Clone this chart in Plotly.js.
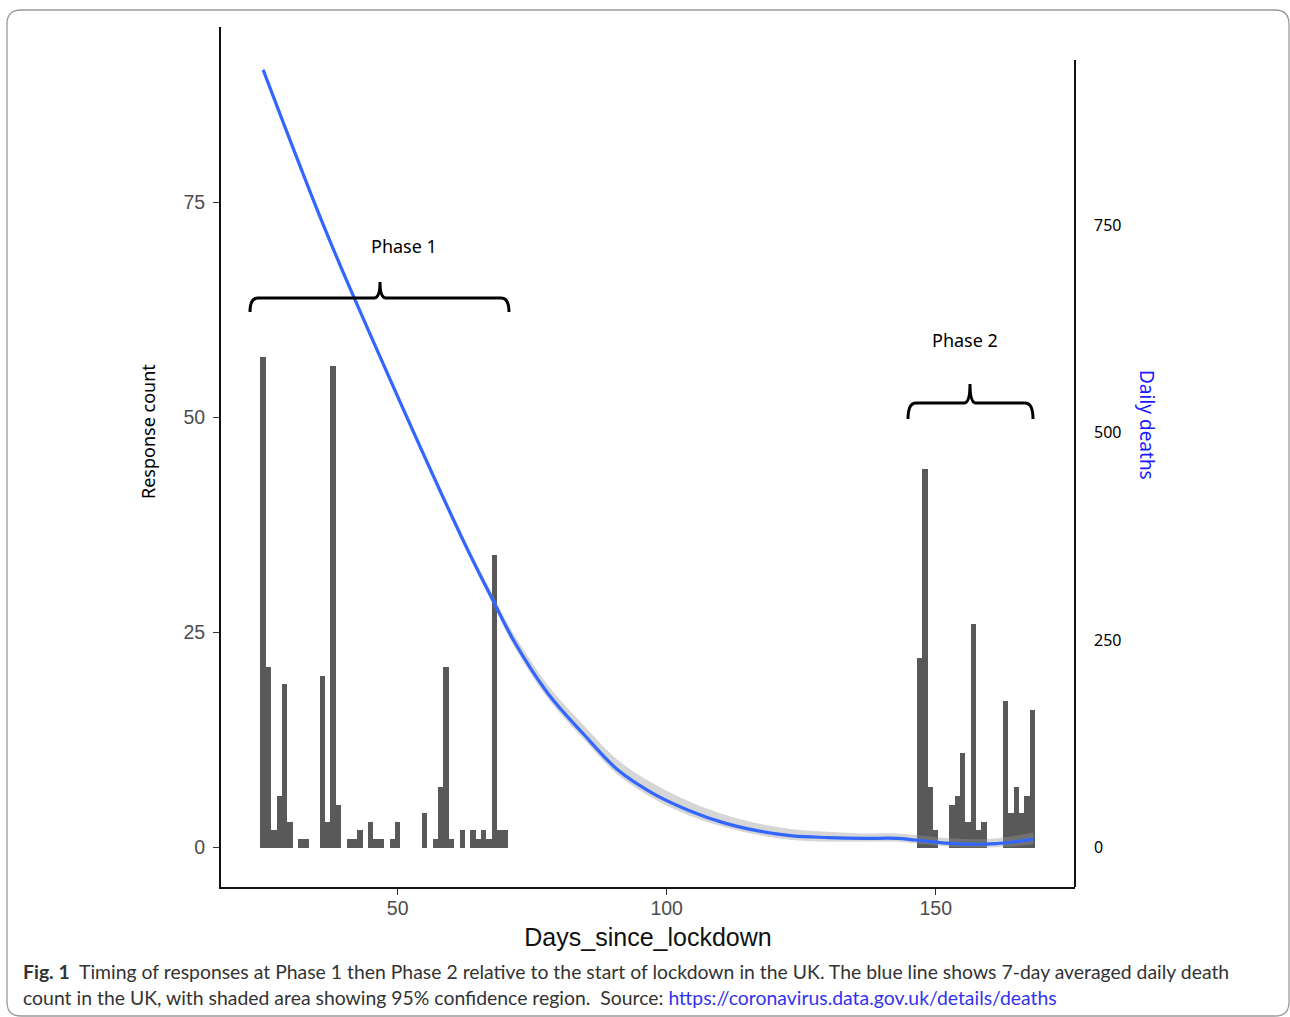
<!DOCTYPE html>
<html><head><meta charset="utf-8">
<script src="https://cdn.plot.ly/plotly-3.0.1.min.js"></script>
<style>html,body{margin:0;padding:0;background:#fff;} #chart{width:1290px;height:1017px;}</style>
</head><body><div id="chart"></div>
<script>
// ---- data ----
const phase1Days = [25,26,27,28,29,30,31,32,33,34,35,36,37,38,39,40,41,42,43,44,45,46,47,48,49,50,51,52,53,54,55,56,57,58,59,60,61,62,63,64,65,66,67,68,69,70];
const phase1Counts = [57,21,2,6,19,3,0,1,1,0,0,20,3,56,5,0,1,1,2,0,3,1,1,0,1,3,0,0,0,0,4,0,1,7,21,1,0,2,0,2,1,2,1,34,2,2];
const phase2Days = [147,148,149,150,151,152,153,154,155,156,157,158,159,160,161,162,163,164,165,166,167,168];
const phase2Counts = [22,44,7,2,0,0,5,6,11,3,26,2,3,0,0,0,17,4,7,4,6,16];

const deathDays  = [25.0,36.5,44.5,62.1,67.7,71.5,78.0,84.5,91.0,97.5,104.0,110.5,117.0,123.4,129.9,136.4,142.9,146.2,152.7,159.1,163.7,168.2];
const deaths     = [937,745,624,371,298,250,185,137,93,65,45,30,20,14,12,11,11,9,5,4,6,10];
const deathsUpper= [941,749,628,376,304,258,195,148,105,77,56,40,29,22,19,17,17,15,11,10,13,18];
const deathsLower= [933,741,620,366,293,244,179,131,87,59,39,25,15,9,7,7,7,5,1,0,1,4];

const xTicks = [50,100,150];
const countTicks = [0,25,50,75];
const deathTicks = [0,250,500,750];

// ---- layout helpers (pixel -> paper) ----
const PL=221, PR=1075, PT=27, PB=887;
const px = v => (v-PL)/(PR-PL);
const py = v => (PB-v)/(PB-PT);
function P(x,y){return px(x).toFixed(5)+','+py(y).toFixed(5);}
function brace(xL,xM,xR,yL,yT,yP){
  return 'M'+P(xL,yT)+' Q'+P(xL,yL)+' '+P(xL+8,yL)+' L'+P(xM-6,yL)+' Q'+P(xM,yL)+' '+P(xM,yP)+
         ' Q'+P(xM,yL)+' '+P(xM+6,yL)+' L'+P(xR-8,yL)+' Q'+P(xR,yL)+' '+P(xR,yT);
}
function roundRect(x0,y0,x1,y1,r){
  return 'M'+P(x0+r,y0)+' L'+P(x1-r,y0)+' Q'+P(x1,y0)+' '+P(x1,y0+r)+' L'+P(x1,y1-r)+' Q'+P(x1,y1)+' '+P(x1-r,y1)+
         ' L'+P(x0+r,y1)+' Q'+P(x0,y1)+' '+P(x0,y1-r)+' L'+P(x0,y0+r)+' Q'+P(x0,y0)+' '+P(x0+r,y0)+' Z';
}

const barColor = '#595959';
const traces = [
  {type:'bar', x:phase1Days, y:phase1Counts, width:1, marker:{color:barColor, line:{width:0}}, hoverinfo:'skip', showlegend:false},
  {type:'bar', x:phase2Days, y:phase2Counts, width:1, marker:{color:barColor, line:{width:0}}, hoverinfo:'skip', showlegend:false},
  {type:'scatter', mode:'lines', x:deathDays, y:deathsLower, yaxis:'y2', line:{width:0, shape:'spline', smoothing:1}, hoverinfo:'skip', showlegend:false},
  {type:'scatter', mode:'lines', x:deathDays, y:deathsUpper, yaxis:'y2', fill:'tonexty', fillcolor:'rgba(153,153,153,0.4)', line:{width:0, shape:'spline', smoothing:1}, hoverinfo:'skip', showlegend:false},
  {type:'scatter', mode:'lines', x:deathDays, y:deaths, yaxis:'y2', line:{color:'#3366FF', width:3.2, shape:'spline', smoothing:1}, hoverinfo:'skip', showlegend:false}
];

const tickFont = {family:'Liberation Sans, Arial, sans-serif', size:19.5, color:'#4d4d4d'};
const calFont = 'Noto Sans, Open Sans, sans-serif';
const capFont = 'Lato, Roboto, sans-serif';

const layout = {
  width:1290, height:1017,
  margin:{l:PL, r:1290-PR, t:PT, b:1017-PB, pad:0},
  paper_bgcolor:'#fff', plot_bgcolor:'#fff',
  bargap:0, barmode:'overlay',
  showlegend:false,
  xaxis:{range:[17.16,175.89], tickvals:xTicks, ticks:'outside', ticklen:6, tickwidth:1.5, tickcolor:'#333',
         showline:true, linecolor:'#111', linewidth:2, showgrid:false, zeroline:false,
         tickfont:tickFont, ticklabelstandoff:-3,
         title:{text:'Days_since_lockdown', font:{family:'Liberation Sans, Arial, sans-serif', size:25, color:'#111'}, standoff:10}},
  yaxis:{range:[-4.59,95.41], tickvals:countTicks, ticks:'outside', ticklen:6, tickwidth:1.5, tickcolor:'#333',
         showline:true, linecolor:'#111', linewidth:2, showgrid:false, zeroline:false,
         tickfont:tickFont, ticklabelstandoff:4},
  yaxis2:{overlaying:'y', side:'right', range:[-47.6,988.6], tickvals:deathTicks, ticks:'', showline:false,
          showgrid:false, zeroline:false, tickfont:{family:calFont, size:16, color:'#000'}, ticklabelstandoff:18},
  shapes:[
    {type:'path', xref:'paper', yref:'paper', path:roundRect(7,10,1289,1016,14), line:{color:'#9a9a9a', width:1.3}, fillcolor:'rgba(0,0,0,0)', layer:'below'},
    {type:'line', xref:'paper', yref:'paper', x0:px(1075), x1:px(1075), y0:py(60), y1:py(887), line:{color:'#111', width:2}},
    {type:'path', xref:'paper', yref:'paper', path:brace(250,380,509,298,312,282), line:{color:'#000', width:3}},
    {type:'path', xref:'paper', yref:'paper', path:brace(908,970,1033,403,419,384), line:{color:'#000', width:3}}
  ],
  annotations:[
    {xref:'paper', yref:'paper', x:px(148), y:py(432), text:'Response count', textangle:-90, showarrow:false, font:{family:calFont, size:18, color:'#000'}, xanchor:'center', yanchor:'middle'},
    {xref:'paper', yref:'paper', x:px(404), y:py(246), text:'Phase 1', showarrow:false, font:{family:calFont, size:18, color:'#000'}, xanchor:'center', yanchor:'middle'},
    {xref:'paper', yref:'paper', x:px(965), y:py(340), text:'Phase 2', showarrow:false, font:{family:calFont, size:18, color:'#000'}, xanchor:'center', yanchor:'middle'},
    {xref:'paper', yref:'paper', x:px(1147), y:py(425), text:'Daily deaths', textangle:90, showarrow:false, font:{family:calFont, size:19, color:'#1a1aff'}, xanchor:'center', yanchor:'middle'},
    {xref:'paper', yref:'paper', x:px(21), y:py(971), xanchor:'left', yanchor:'middle', showarrow:false, align:'left',
     text:'<b>Fig. 1</b>  Timing of responses at Phase 1 then Phase 2 relative to the start of lockdown in the UK. The blue line shows 7-day averaged daily death',
     font:{family:capFont, size:19.4, color:'#333'}},
    {xref:'paper', yref:'paper', x:px(21), y:py(998), xanchor:'left', yanchor:'middle', showarrow:false, align:'left',
     text:'count in the UK, with shaded area showing 95% confidence region.  Source: <span style="color:#3333ee">https://coronavirus.data.gov.uk/details/deaths</span>',
     font:{family:capFont, size:19.4, color:'#333'}}
  ]
};

Plotly.newPlot('chart', traces, layout, {staticPlot:true, displayModeBar:false});
</script></body></html>
